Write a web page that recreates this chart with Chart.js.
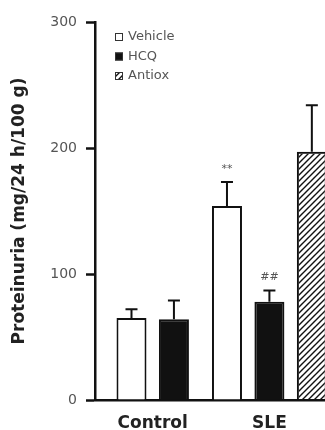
<!DOCTYPE html>
<html>
<head>
<meta charset="utf-8">
<script src="https://cdn.jsdelivr.net/npm/chart.js@4"></script>
<style>
  html, body { margin: 0; padding: 0; background: #fff; }
  #wrap { width: 325px; height: 430px; }
</style>
</head>
<body>
<div id="wrap"><canvas id="proteinuriaChart"></canvas></div>
<script>
const groups = ['Control', 'SLE'];
const seriesNames = ['Vehicle', 'HCQ', 'Antiox'];
const vehicle = [65, 154];
const hcq = [64, 78];
const antiox = [null, 197];
const vehicleErr = [7, 19];
const hcqErr = [15, 9];
const antioxErr = [null, 37];
const vehicleMarks = ['', '**'];
const hcqMarks = ['', '##'];
const antioxMarks = ['', ''];
const yTicks = [0, 100, 200, 300];

(function () {
  if (typeof Chart === 'undefined') return;

  // diagonal hatch for Antiox
  const pc = document.createElement('canvas');
  pc.width = 6; pc.height = 6;
  const p = pc.getContext('2d');
  p.strokeStyle = '#111';
  p.lineWidth = 1.4;
  p.beginPath();
  p.moveTo(0, 6); p.lineTo(6, 0);
  p.moveTo(-1, 1); p.lineTo(1, -1);
  p.moveTo(5, 7); p.lineTo(7, 5);
  p.stroke();
  const hatch = p.createPattern(pc, 'repeat');

  const groupGap = 0.25;
  const values = [vehicle, hcq, antiox];
  const errs = [vehicleErr, hcqErr, antioxErr];
  const marks = [vehicleMarks, hcqMarks, antioxMarks];

  // slot positions along x: bars in a group are one unit apart
  const groupStart = [];
  const groupCenter = [];
  let pos = 0;
  groups.forEach((g, gi) => {
    const n = values.filter(v => v[gi] != null).length;
    groupStart.push(pos);
    groupCenter.push(pos + (n - 1) / 2);
    pos += n + groupGap;
  });

  const styles = [
    { backgroundColor: '#fff', borderColor: '#111' },
    { backgroundColor: '#111', borderColor: '#111' },
    { backgroundColor: hatch, borderColor: '#111' },
  ];

  const datasets = seriesNames.map((name, si) => ({
    label: name,
    data: groups.map((g, gi) => values[si][gi] == null ? null
      : { x: groupStart[gi] + values.slice(0, si).filter(v => v[gi] != null).length, y: values[si][gi] })
      .filter(d => d),
    errs: errs[si].filter(e => e != null),
    marks: marks[si].filter((m, gi) => values[si][gi] != null),
    backgroundColor: styles[si].backgroundColor,
    borderColor: styles[si].borderColor,
    borderWidth: 2,
    borderSkipped: 'bottom',
    categoryPercentage: 1,
    barPercentage: 1.42,
    maxBarThickness: 30,
    grouped: false,
  }));

  const errorBars = {
    id: 'errorBars',
    afterDatasetsDraw(chart) {
      const ctx = chart.ctx;
      const y = chart.scales.y;
      ctx.save();
      ctx.beginPath();
      ctx.rect(chart.chartArea.left, 0, chart.chartArea.right - chart.chartArea.left, chart.height);
      ctx.clip();
      chart.data.datasets.forEach((ds, di) => {
        const meta = chart.getDatasetMeta(di);
        meta.data.forEach((bar, i) => {
          const top = y.getPixelForValue(ds.data[i].y + ds.errs[i]);
          ctx.strokeStyle = '#111';
          ctx.lineWidth = 2;
          ctx.beginPath();
          ctx.moveTo(bar.x, bar.y);
          ctx.lineTo(bar.x, top);
          ctx.moveTo(bar.x - 6, top);
          ctx.lineTo(bar.x + 6, top);
          ctx.stroke();
          if (ds.marks[i]) {
            ctx.fillStyle = '#555';
            ctx.font = '11px "DejaVu Sans"';
            ctx.textAlign = 'center';
            ctx.textBaseline = 'middle';
            ctx.fillText(ds.marks[i], bar.x, top - 13);
          }
        });
      });
      ctx.restore();

      // legend inside plot, top-left
      const a = chart.chartArea;
      ctx.save();
      ctx.font = '13px "DejaVu Sans"';
      ctx.textBaseline = 'middle';
      ctx.textAlign = 'left';
      chart.data.datasets.forEach((ds, di) => {
        const ly = a.top + 15 + di * 19.5;
        const lx = a.left + 20;
        ctx.fillStyle = ds.backgroundColor;
        ctx.fillRect(lx, ly - 4, 8, 8);
        ctx.strokeStyle = '#333';
        ctx.lineWidth = 1;
        ctx.strokeRect(lx + 0.5, ly - 3.5, 7, 7);
        ctx.fillStyle = '#555';
        ctx.fillText(ds.label, lx + 13, ly);
      });
      ctx.restore();
    },
  };

  new Chart(document.getElementById('proteinuriaChart'), {
    type: 'bar',
    data: { datasets },
    plugins: [errorBars],
    options: {
      responsive: true,
      maintainAspectRatio: false,
      animation: false,
      layout: { padding: { top: 22, right: 0, left: 0, bottom: 0 } },
      plugins: { legend: { display: false }, tooltip: { enabled: false } },
      scales: {
        x: {
          type: 'linear',
          offset: false,
          min: -0.86,
          max: 4.56,
          afterBuildTicks: (scale) => { scale.ticks = groupCenter.map(v => ({ value: v })); },
          afterFit: (scale) => { scale.height = 30; },
          grid: { display: false, offset: false },
          border: { display: true, color: '#111', width: 2.5 },
          ticks: {
            autoSkip: false,
            maxRotation: 0,
            padding: 5,
            color: '#222',
            font: { family: 'DejaVu Sans', size: 17, weight: 'bold' },
            callback: (v) => groups[groupCenter.indexOf(v)] || '',
          },
        },
        y: {
          min: 0,
          max: 300,
          afterBuildTicks: (scale) => { scale.ticks = yTicks.map(v => ({ value: v })); },
          afterFit: (scale) => { scale.width = 95; },
          grid: { drawOnChartArea: false, drawTicks: true, tickLength: 9, tickColor: '#111', tickWidth: 2.5 },
          border: { display: true, color: '#111', width: 2.5 },
          ticks: {
            padding: 9,
            color: '#555',
            font: { family: 'DejaVu Sans', size: 14 },
          },
          title: {
            display: true,
            text: 'Proteinuria (mg/24 h/100 g)',
            color: '#222',
            padding: { top: 9, bottom: 0 },
            font: { family: 'DejaVu Sans', size: 17, weight: 'bold' },
          },
        },
      },
    },
  });
})();
</script>
</body>
</html>
